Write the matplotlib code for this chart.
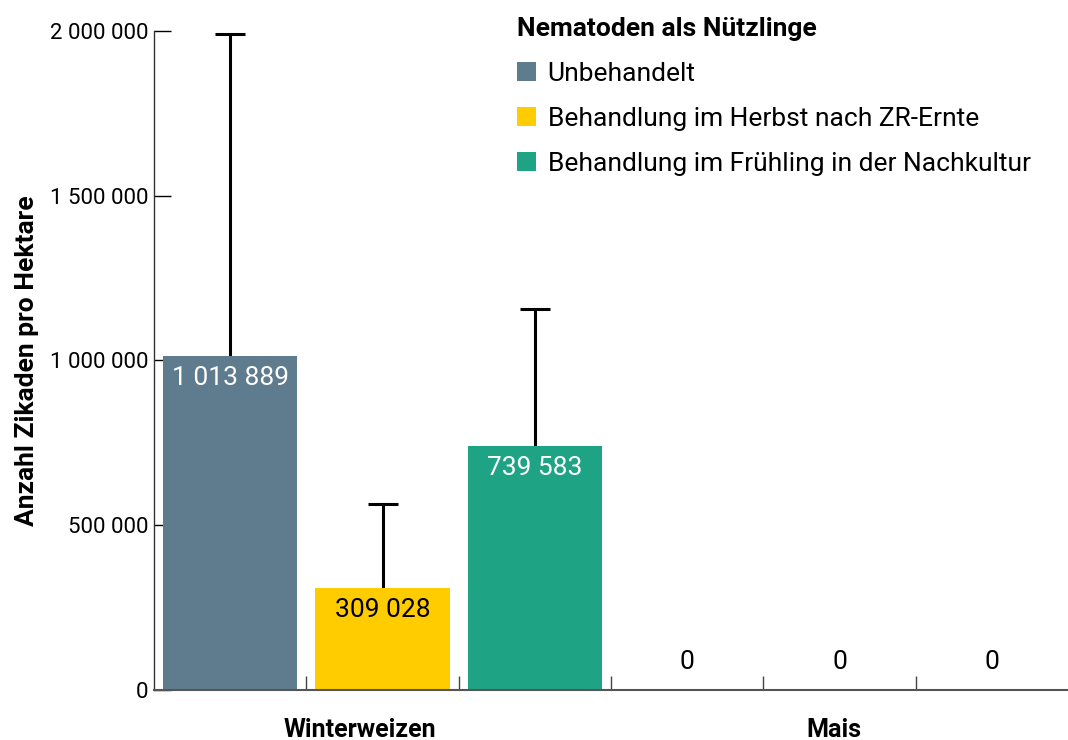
import matplotlib.pyplot as plt
from matplotlib.patches import Patch
from matplotlib.ticker import FuncFormatter

plt.rcParams['font.family'] = ['Roboto', 'DejaVu Sans']

# data
crops = ["Winterweizen", "Mais"]
treatments = ["Unbehandelt", "Behandlung im Herbst nach ZR-Ernte",
              "Behandlung im Frühling in der Nachkultur"]
values = [1013889, 309028, 739583, 0, 0, 0]
err_upper = [977000, 256000, 417000, 0, 0, 0]
colors = ["#5e7c8d", "#ffcc00", "#1fa385"]
label_colors = ["white", "black", "white"]


def fmt(v, pos=None):
    return f"{v:,.0f}".replace(",", " ")


fig = plt.figure(figsize=(10.68, 7.40), dpi=100)
ax = fig.add_axes([0.1442, 0.0676, 0.8558, 0.8905])

xs = [i + 0.5 for i in range(len(values))]
for i, (x, v) in enumerate(zip(xs, values)):
    if v > 0:
        ax.bar(x, v, width=0.88, color=colors[i % 3], zorder=2)
        eb = ax.errorbar(x, v, yerr=[[0], [err_upper[i]]], fmt="none", ecolor="black",
                         elinewidth=2.2, capsize=11, capthick=2.2, zorder=1)
        eb[1][0].set_visible(False)  # no cap at the bar top
        ax.text(x, v - 30000, fmt(v), ha="center", va="top", fontsize=19,
                color=label_colors[i % 3], zorder=3)
    else:
        ax.text(x, 50000, fmt(v), ha="center", va="bottom", fontsize=19, color="black")

ax.set_xlim(0, 6)
ax.set_ylim(0, 2000000)
ax.set_yticks([0, 500000, 1000000, 1500000, 2000000])
ax.yaxis.set_major_formatter(FuncFormatter(fmt))
ax.tick_params(axis="y", direction="in", length=12, width=1, labelsize=16, pad=4)
ax.set_xticks([1, 2, 3, 4, 5])
ax.set_xticklabels([])
ax.tick_params(axis="x", direction="in", length=10, width=1, color="#444444")

for s in ["top", "right"]:
    ax.spines[s].set_visible(False)
ax.spines["left"].set_color("#333333")
ax.spines["left"].set_linewidth(1)
ax.spines["bottom"].set_color("#555555")
ax.spines["bottom"].set_linewidth(1.5)

ax.text(1.35, -0.06, crops[0], transform=ax.get_xaxis_transform(), ha="center",
        va="center", fontsize=18, fontweight="bold")
ax.text(4.46, -0.06, crops[1], transform=ax.get_xaxis_transform(), ha="center",
        va="center", fontsize=18, fontweight="bold")

ax.set_ylabel("Anzahl Zikaden pro Hektare", fontsize=19, fontweight="bold", labelpad=8)

handles = [Patch(facecolor=c, edgecolor="none") for c in colors]
leg = ax.legend(handles, treatments, title="Nematoden als Nützlinge",
                loc="upper left", bbox_to_anchor=(0.386, 1.038), frameon=False,
                fontsize=19, title_fontproperties={"size": 19, "weight": "bold"},
                handlelength=0.7, handleheight=0.7, handletextpad=0.45,
                labelspacing=0.8, borderaxespad=0)
leg._legend_box.align = "left"

fig.savefig("out.png", dpi=100)
